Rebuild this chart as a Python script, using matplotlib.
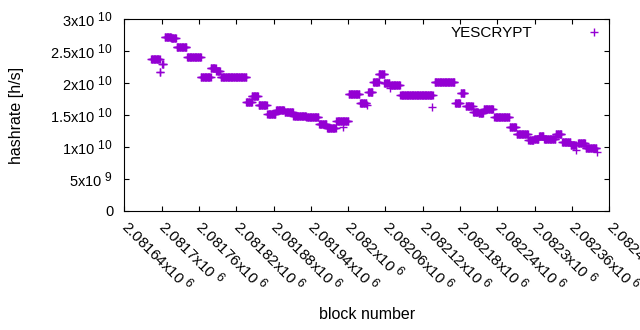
import numpy as np
import matplotlib
matplotlib.use("Agg")
import matplotlib.pyplot as plt
from matplotlib import _mathtext

plt.rcParams['font.family'] = ['Liberation Sans', 'DejaVu Sans']
plt.rcParams['mathtext.fontset'] = 'custom'
plt.rcParams['mathtext.rm'] = 'Liberation Sans'
plt.rcParams['mathtext.default'] = 'regular'
# gnuplot-style exponents are only a little smaller than the base text
_mathtext.SHRINK_FACTOR = 0.82

# runs of consecutive blocks that share one hashrate value
seg_start = [2081683, 2081697, 2081701, 2081705, 2081715, 2081724, 2081741, 2081763,
             2081779, 2081788, 2081795, 2081836, 2081845, 2081856, 2081870, 2081884,
             2081898, 2081912, 2081933, 2081953, 2081966, 2081981, 2082001, 2082019,
             2082032, 2082040, 2082049, 2082058, 2082068, 2082084, 2082139, 2082172,
             2082181, 2082189, 2082201, 2082210, 2082218, 2082235, 2082260, 2082271,
             2082290, 2082299, 2082307, 2082315, 2082334, 2082344, 2082358, 2082370,
             2082382]
seg_end = [2081697, 2081698, 2081703, 2081715, 2081723, 2081740, 2081763, 2081779,
           2081787, 2081794, 2081836, 2081845, 2081855, 2081869, 2081883, 2081897,
           2081911, 2081932, 2081952, 2081965, 2081980, 2082000, 2082018, 2082029,
           2082039, 2082049, 2082058, 2082066, 2082083, 2082136, 2082171, 2082180,
           2082187, 2082200, 2082209, 2082217, 2082233, 2082259, 2082270, 2082289,
           2082298, 2082306, 2082314, 2082333, 2082343, 2082357, 2082366, 2082381,
           2082399]
seg_rate = [2.370e10, 2.177e10, 2.292e10, 2.714e10, 2.698e10, 2.570e10, 2.401e10, 2.089e10,
            2.230e10, 2.190e10, 2.089e10, 1.708e10, 1.792e10, 1.651e10, 1.511e10, 1.578e10,
            1.547e10, 1.479e10, 1.464e10, 1.354e10, 1.302e10, 1.401e10, 1.823e10, 1.692e10,
            1.854e10, 2.021e10, 2.136e10, 2.000e10, 1.964e10, 1.807e10, 2.010e10, 1.683e10,
            1.839e10, 1.636e10, 1.552e10, 1.531e10, 1.589e10, 1.474e10, 1.307e10, 1.198e10,
            1.104e10, 1.130e10, 1.167e10, 1.120e10, 1.198e10, 1.083e10, 1.026e10, 1.067e10,
            0.980e10]

# lone blocks off the runs
single_block = [2081992, 2082030, 2082067, 2082135, 2082366, 2082401]
single_rate = [1.31e10, 1.656e10, 1.917e10, 1.63e10, 0.953e10, 0.927e10]

x_ticks = [2081640 + 60 * i for i in range(14)]
y_ticks = [0, 0.5e10, 1e10, 1.5e10, 2e10, 2.5e10, 3e10]
y_labels = ["0", r"5x10$^{\ 9}$", r"1x10$^{\ 10}$", r"1.5x10$^{\ 10}$",
            r"2x10$^{\ 10}$", r"2.5x10$^{\ 10}$", r"3x10$^{\ 10}$"]

blocks = []
rates = []
for s, e, r in zip(seg_start, seg_end, seg_rate):
    b = np.arange(s, e + 1)
    blocks.extend(b)
    rates.extend([r] * len(b))
blocks.extend(single_block)
rates.extend(single_rate)

color = "#9400D3"
fs = 10.5

fig = plt.figure(figsize=(6.4, 3.3), dpi=100)
ax = fig.add_axes([124.3 / 640, 1 - 211 / 330, 485 / 640, 192 / 330])

ax.plot(blocks, rates, linestyle="none", marker="+", ms=5.5, mew=1.0,
        color=color, label="YESCRYPT")

ax.set_xlim(2081640, 2082420)
ax.set_ylim(0, 3e10)
ax.set_xticks(x_ticks)
ax.set_xticklabels([f"{v / 1e6:g}x10$^{{\\ 6}}$" for v in x_ticks],
                   rotation=-45, ha="left", va="center", rotation_mode="anchor",
                   fontsize=11)
ax.set_yticks(y_ticks)
ax.set_yticklabels(y_labels, fontsize=fs)

ax.tick_params(direction="in", length=3.3, width=0.8, top=True, right=True,
               colors="black")
ax.tick_params(axis="y", pad=8)
ax.tick_params(axis="x", pad=9)
for sp in ax.spines.values():
    sp.set_linewidth(0.8)

ax.set_xlabel("block number", fontsize=11.5)
ax.xaxis.set_label_coords(0.5, -0.54)
ax.xaxis.label.set_va("center")
ax.set_ylabel("hashrate [h/s]", fontsize=11.5)
ax.yaxis.set_label_coords(-0.223, 0.5)
ax.yaxis.label.set_va("center")

ax.legend(loc="upper right", bbox_to_anchor=(1.0, 0.962), frameon=False,
          markerfirst=False, fontsize=11, borderaxespad=0, borderpad=0,
          handlelength=2, handletextpad=3.05)

fig.savefig("out.png", dpi=100)
